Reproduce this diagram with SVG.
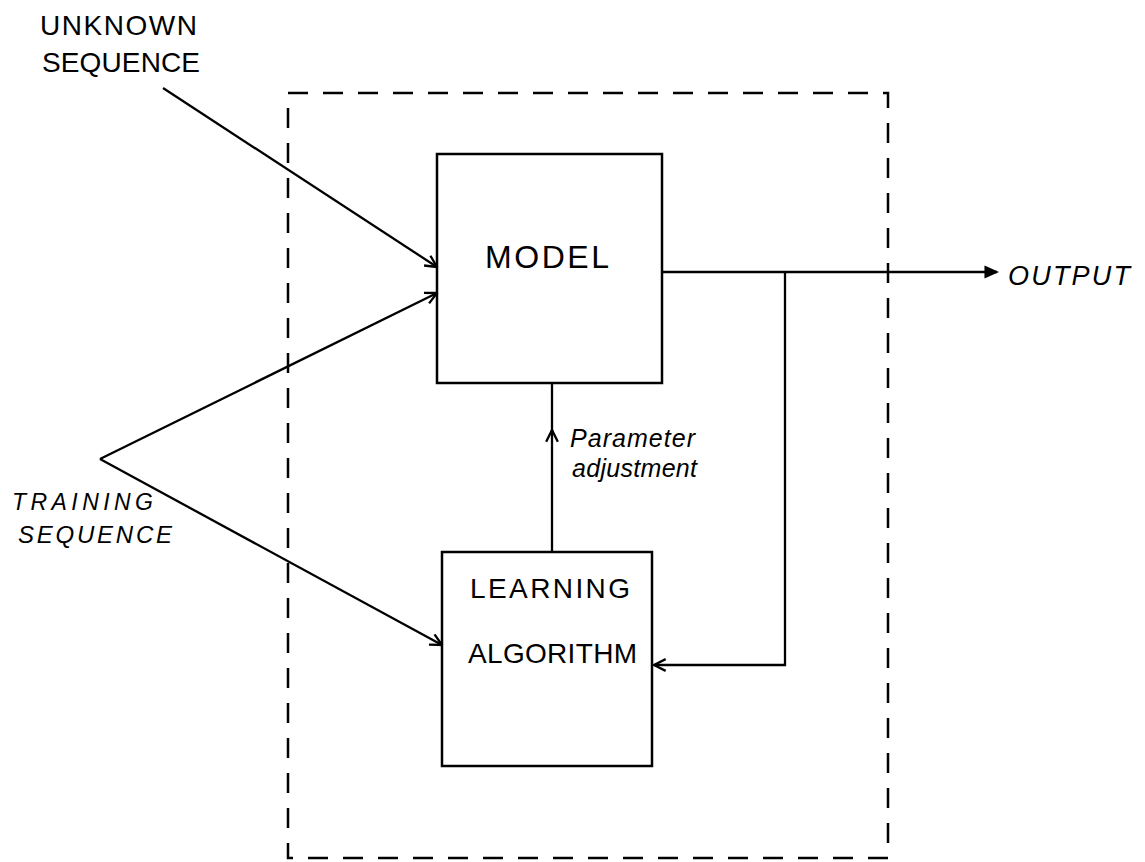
<svg xmlns="http://www.w3.org/2000/svg" width="1145" height="862" viewBox="0 0 1145 862">
<style>
.box{fill:none;stroke:#000;stroke-width:2.5}
.dash{fill:none;stroke:#000;stroke-width:2.5;stroke-dasharray:20 15}
.ln{fill:none;stroke:#000;stroke-width:2.3}
.lbl{font-family:"Liberation Sans",Arial,sans-serif;fill:#000}
.it{font-style:italic}
</style>
<defs>
<marker id="open" viewBox="0 0 12 12" refX="11" refY="6" markerWidth="14" markerHeight="14" markerUnits="userSpaceOnUse" orient="auto">
<path d="M1,1 L11,6 L1,11" fill="none" stroke="#000" stroke-width="2"/>
</marker>
<marker id="tri" viewBox="0 0 12 12" refX="11" refY="6" markerWidth="16" markerHeight="14" markerUnits="userSpaceOnUse" orient="auto">
<path d="M1,1.5 L11,6 L1,10.5 Z" fill="#000" stroke="#000" stroke-width="1.5"/>
</marker>
</defs>
<rect width="1145" height="862" fill="#fff"/>
<g id="system-boundary">
<rect class="dash" x="288" y="93" width="600" height="765"/>
</g>
<g id="unknown-sequence">
<text class="lbl" x="40" y="35" font-size="28" textLength="157" lengthAdjust="spacing">UNKNOWN</text>
<text class="lbl" x="42" y="72" font-size="28" textLength="158" lengthAdjust="spacing">SEQUENCE</text>
</g>
<g id="training-sequence">
<text class="lbl it" x="12" y="510" font-size="23" textLength="141" lengthAdjust="spacing">TRAINING</text>
<text class="lbl it" x="18" y="543" font-size="24" textLength="154" lengthAdjust="spacing">SEQUENCE</text>
</g>
<g id="model">
<rect class="box" x="437" y="154" width="225" height="229"/>
<text class="lbl" x="485" y="268" font-size="32" textLength="124" lengthAdjust="spacing">MODEL</text>
</g>
<g id="learning-algorithm">
<rect class="box" x="442" y="552" width="210" height="214"/>
<text class="lbl" x="470" y="598" font-size="28" textLength="160" lengthAdjust="spacing">LEARNING</text>
<text class="lbl" x="468" y="663" font-size="28" textLength="169" lengthAdjust="spacing">ALGORITHM</text>
</g>
<g id="output">
<text class="lbl it" x="1008" y="285" font-size="27" textLength="122" lengthAdjust="spacing">OUTPUT</text>
</g>
<g id="parameter-label">
<text class="lbl it" x="570" y="447" font-size="25" textLength="125" lengthAdjust="spacing">Parameter</text>
<text class="lbl it" x="572" y="477" font-size="25" textLength="125" lengthAdjust="spacing">adjustment</text>
</g>
<g id="connectors">
<path class="ln" d="M163,88 L437,267" marker-end="url(#open)"/>
<path class="ln" d="M100,459 L437,293" marker-end="url(#open)"/>
<path class="ln" d="M100,459 L442,645" marker-end="url(#open)"/>
<path class="ln" d="M552,552 L552,430" marker-end="url(#open)"/>
<path class="ln" d="M552,432 L552,383"/>
<path class="ln" d="M662,272 L997,272" marker-end="url(#tri)"/>
<path class="ln" d="M785,272 L785,665 L654,665" marker-end="url(#open)"/>
</g>
</svg>
